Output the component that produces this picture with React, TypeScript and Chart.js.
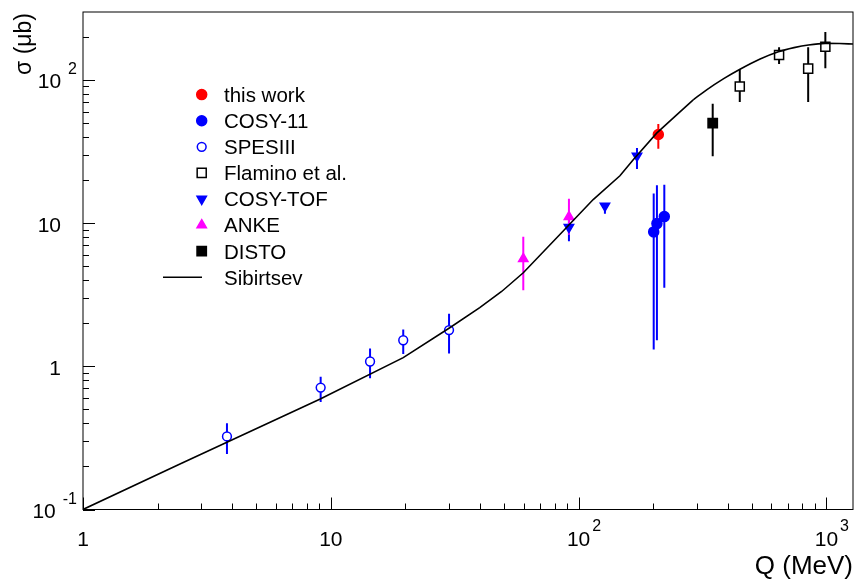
import { useEffect, useRef } from "react";
import { Chart, registerables } from "chart.js";

Chart.register(...registerables);

// Sibirtsev model curve, sigma (µb) versus excess energy Q (MeV)
const sibirtsevQ = [1, 2.45, 3.79, 9.02, 19.6, 30.2, 39.9, 48.9, 59.8, 84.0, 114.5, 146.8, 166.1, 206.5, 248.7, 290, 328.6, 385, 447.9, 540, 640, 740, 846, 988, 1130, 1280];
const sibirtsevSigma = [0.1, 0.207, 0.294, 0.589, 1.15, 1.86, 2.57, 3.33, 4.5, 8.32, 14.6, 21.4, 27.7, 42.5, 57.0, 72.6, 85.2, 102, 118.7, 140, 157.4, 168, 175.5, 180, 179.5, 178];
// polyline below this index, smooth spline above it
const curveSplit = 15;

// this work
const thisWorkQ = [209.7];
const thisWorkSigma = [41.6];
const thisWorkLow = [33.0];
const thisWorkHigh = [49.3];

// COSY-11
const cosy11Q = [200.9, 207, 221.7];
const cosy11Sigma = [8.68, 9.92, 11.1];
const cosy11Low = [1.31, 1.52, 3.53];
const cosy11High = [16.1, 18.4, 18.5];

// SPESIII
const spesQ = [3.81, 9.1, 14.4, 19.6, 30.0];
const spesSigma = [0.324, 0.71, 1.08, 1.52, 1.79];
const spesLow = [0.244, 0.563, 0.824, 1.22, 1.23];
const spesHigh = [0.401, 0.847, 1.33, 1.81, 2.33];

// Flamino et al.
const flaminoQ = [447, 644, 844, 990];
const flaminoSigma = [89.8, 149.3, 119.9, 170.7];
const flaminoLow = [70.0, 129, 70, 120.6];
const flaminoHigh = [118.8, 169, 169, 216];

// COSY-TOF
const cosyTofQ = [91.4, 127.7, 172];
const cosyTofSigma = [9.36, 13.2, 29.5];
const cosyTofLow = [7.46, 11.6, 23.9];
const cosyTofHigh = [10.6, 13.8, 33.4];

// ANKE
const ankeQ = [59.8, 91.4];
const ankeSigma = [5.63, 11.05];
const ankeLow = [3.4, 8.3];
const ankeHigh = [8.02, 14.8];

// DISTO
const distoQ = [347.6];
const distoSigma = [49.9];
const distoLow = [29.3];
const distoHigh = [68.1];

const legendLabels = ["this work", "COSY-11", "SPESIII", "Flamino et al.", "COSY-TOF", "ANKE", "DISTO", "Sibirtsev"];

// axis tick labels: base and exponent
const xTickValues = [1, 10, 100, 1000];
const xTickBase = ["1", "10", "10", "10"];
const xTickExp = ["", "", "2", "3"];
const yTickValues = [0.1, 1, 10, 100];
const yTickBase = ["10", "1", "10", "10"];
const yTickExp = ["-1", "", "", "2"];

const xTitle = "Q (MeV)";
const yTitle = "σ (μb)";

const X_MIN = 1;
const X_MAX = 1280;
const Y_MIN = 0.1;
const Y_MAX = 298;

const FONT = '"Liberation Sans", Arial, Helvetica, sans-serif';

type MarkerStyle = "circle" | "rect" | "triangle";

interface Series {
  label: string;
  q: number[];
  s: number[];
  lo: number[];
  hi: number[];
  color: string;
  style: MarkerStyle;
  rotation: number;
  radius: number;
  open: boolean;
}

const series: Series[] = [
  { label: legendLabels[0], q: thisWorkQ, s: thisWorkSigma, lo: thisWorkLow, hi: thisWorkHigh, color: "#ff0000", style: "circle", rotation: 0, radius: 5, open: false },
  { label: legendLabels[1], q: cosy11Q, s: cosy11Sigma, lo: cosy11Low, hi: cosy11High, color: "#0000ff", style: "circle", rotation: 0, radius: 5, open: false },
  { label: legendLabels[2], q: spesQ, s: spesSigma, lo: spesLow, hi: spesHigh, color: "#0000ff", style: "circle", rotation: 0, radius: 4.4, open: true },
  { label: legendLabels[3], q: flaminoQ, s: flaminoSigma, lo: flaminoLow, hi: flaminoHigh, color: "#000000", style: "rect", rotation: 0, radius: 6.4, open: true },
  { label: legendLabels[4], q: cosyTofQ, s: cosyTofSigma, lo: cosyTofLow, hi: cosyTofHigh, color: "#0000ff", style: "triangle", rotation: 180, radius: 5.4, open: false },
  { label: legendLabels[5], q: ankeQ, s: ankeSigma, lo: ankeLow, hi: ankeHigh, color: "#ff00ff", style: "triangle", rotation: 0, radius: 5.4, open: false },
  { label: legendLabels[6], q: distoQ, s: distoSigma, lo: distoLow, hi: distoHigh, color: "#000000", style: "rect", rotation: 0, radius: 6.6, open: false },
];

function drawMarker(ctx: CanvasRenderingContext2D, m: Series, x: number, y: number) {
  const r = m.radius;
  ctx.beginPath();
  if (m.style === "circle") {
    ctx.arc(x, y, r, 0, Math.PI * 2);
  } else if (m.style === "rect") {
    const h = r * Math.SQRT1_2;
    ctx.rect(x - h, y - h, 2 * h, 2 * h);
  } else {
    let rad = (m.rotation * Math.PI) / 180;
    ctx.moveTo(x + Math.sin(rad) * r, y - Math.cos(rad) * r);
    rad += (2 * Math.PI) / 3;
    ctx.lineTo(x + Math.sin(rad) * r, y - Math.cos(rad) * r);
    rad += (2 * Math.PI) / 3;
    ctx.lineTo(x + Math.sin(rad) * r, y - Math.cos(rad) * r);
    ctx.closePath();
  }
  if (!m.open) {
    ctx.fillStyle = m.color;
    ctx.fill();
  }
  ctx.strokeStyle = m.color;
  ctx.lineWidth = 1.5;
  ctx.stroke();
}

// vertical error bars, with a gap through open markers
const errorBarPlugin = {
  id: "errorBars",
  beforeDatasetsDraw(chart: any) {
    const { ctx, chartArea, scales } = chart;
    const xs = scales.x;
    const ys = scales.y;
    ctx.save();
    ctx.beginPath();
    ctx.rect(chartArea.left, chartArea.top, chartArea.right - chartArea.left, chartArea.bottom - chartArea.top);
    ctx.clip();
    ctx.lineWidth = 2;
    series.forEach((m) => {
      ctx.strokeStyle = m.color;
      m.q.forEach((q, i) => {
        const px = xs.getPixelForValue(q);
        const pc = ys.getPixelForValue(m.s[i]);
        const pHi = ys.getPixelForValue(m.hi[i]);
        const pLo = ys.getPixelForValue(m.lo[i]);
        ctx.beginPath();
        if (m.open) {
          const gap = m.style === "rect" ? m.radius * Math.SQRT1_2 : m.radius;
          if (pHi < pc - gap) {
            ctx.moveTo(px, pHi);
            ctx.lineTo(px, pc - gap);
          }
          if (pLo > pc + gap) {
            ctx.moveTo(px, pc + gap);
            ctx.lineTo(px, pLo);
          }
        } else {
          ctx.moveTo(px, pHi);
          ctx.lineTo(px, pLo);
        }
        ctx.stroke();
      });
    });
    ctx.restore();
  },
};

// frame, log ticks, labels, titles and legend
const framePlugin = {
  id: "frameAxes",
  afterDraw(chart: any) {
    const { ctx, chartArea, scales } = chart;
    const xs = scales.x;
    const ys = scales.y;
    const { left, right, top, bottom } = chartArea;
    ctx.save();

    ctx.strokeStyle = "#000";
    ctx.lineWidth = 1;
    ctx.strokeRect(left, top, right - left, bottom - top);

    // x ticks
    ctx.beginPath();
    for (let d = 0; d <= 3; d++) {
      for (let k = 1; k <= 9; k++) {
        const v = k * Math.pow(10, d);
        if (v < X_MIN || v > X_MAX) continue;
        const px = Math.round(xs.getPixelForValue(v)) + 0.5;
        const len = k === 1 ? 12 : 6;
        ctx.moveTo(px, bottom);
        ctx.lineTo(px, bottom - len);
      }
    }
    // y ticks
    for (let d = -1; d <= 2; d++) {
      for (let k = 1; k <= 9; k++) {
        const v = k * Math.pow(10, d);
        if (v < Y_MIN * 0.999 || v > Y_MAX) continue;
        const py = Math.round(ys.getPixelForValue(v)) + 0.5;
        const len = k === 1 ? 12 : 6;
        ctx.moveTo(left, py);
        ctx.lineTo(left + len, py);
      }
    }
    ctx.stroke();

    ctx.fillStyle = "#000";
    const baseSize = 21;
    const supSize = 16;

    // x tick labels
    xTickValues.forEach((v, i) => {
      const px = xs.getPixelForValue(v);
      const cy = bottom + 28.5;
      ctx.font = `${baseSize}px ${FONT}`;
      ctx.textAlign = "center";
      ctx.textBaseline = "alphabetic";
      ctx.fillText(xTickBase[i], px, cy + 0.358 * baseSize);
      if (xTickExp[i]) {
        const w = ctx.measureText(xTickBase[i]).width;
        ctx.font = `${supSize}px ${FONT}`;
        ctx.textAlign = "left";
        ctx.fillText(xTickExp[i], px + w / 2 + 2, cy - 7);
      }
    });

    // y tick labels
    yTickValues.forEach((v, i) => {
      const py = ys.getPixelForValue(v);
      const cy = py + 1;
      ctx.textBaseline = "alphabetic";
      if (yTickExp[i]) {
        ctx.font = `${supSize}px ${FONT}`;
        ctx.textAlign = "right";
        const supRight = left - 6;
        ctx.fillText(yTickExp[i], supRight, cy - 7);
        const sw = ctx.measureText(yTickExp[i]).width;
        ctx.font = `${baseSize}px ${FONT}`;
        ctx.fillText(yTickBase[i], supRight - sw - 7, cy + 0.358 * baseSize);
      } else {
        ctx.font = `${baseSize}px ${FONT}`;
        ctx.textAlign = "right";
        ctx.fillText(yTickBase[i], left - 22, cy + 0.358 * baseSize);
      }
    });

    // axis titles
    ctx.font = `26px ${FONT}`;
    ctx.textAlign = "right";
    ctx.textBaseline = "alphabetic";
    ctx.fillText(xTitle, right, 574);

    ctx.save();
    ctx.translate(31, top + 1);
    ctx.rotate(-Math.PI / 2);
    ctx.font = `23px ${FONT}`;
    ctx.textAlign = "right";
    ctx.fillText(yTitle, 0, 0);
    ctx.restore();

    // legend
    const legendX = 201.7;
    const textX = 224;
    const rowY0 = 94.6;
    const rowStep = 26.1;
    const legendSize = 20.5;
    legendLabels.forEach((label, i) => {
      const y = rowY0 + i * rowStep;
      if (i < series.length) {
        drawMarker(ctx, series[i], legendX, y);
      } else {
        ctx.beginPath();
        ctx.strokeStyle = "#000";
        ctx.lineWidth = 1.6;
        ctx.moveTo(163, y);
        ctx.lineTo(202, y);
        ctx.stroke();
      }
      ctx.fillStyle = "#000";
      ctx.font = `${legendSize}px ${FONT}`;
      ctx.textAlign = "left";
      ctx.textBaseline = "alphabetic";
      ctx.fillText(label, textX, y + 0.358 * legendSize);
    });

    ctx.restore();
  },
};

const hiddenAxis = {
  display: false,
  ticks: { display: false },
  grid: { display: false },
  border: { display: false },
};

export default function App() {
  const canvasRef = useRef<HTMLCanvasElement | null>(null);

  useEffect(() => {
    const canvas = canvasRef.current;
    if (!canvas) return;

    const datasets: any[] = series.map((m) => ({
      label: m.label,
      data: m.q.map((q, i) => ({ x: q, y: m.s[i] })),
      showLine: false,
      pointStyle: m.style,
      pointRotation: m.rotation,
      pointRadius: m.radius,
      pointHoverRadius: m.radius,
      pointBackgroundColor: m.open ? "rgba(0,0,0,0)" : m.color,
      pointBorderColor: m.color,
      pointBorderWidth: 1.5,
    }));

    const curvePoints = sibirtsevQ.map((q, i) => ({ x: q, y: sibirtsevSigma[i] }));
    const curveStyle = {
      label: legendLabels[7],
      showLine: true,
      borderColor: "#000",
      borderWidth: 1.6,
      pointRadius: 0,
      fill: false,
    };
    datasets.unshift(
      { ...curveStyle, data: curvePoints.slice(0, curveSplit + 1), tension: 0 },
      { ...curveStyle, data: curvePoints.slice(curveSplit), cubicInterpolationMode: "monotone" }
    );

    const chart = new Chart(canvas, {
      type: "scatter",
      data: { datasets },
      options: {
        animation: false,
        responsive: false,
        maintainAspectRatio: false,
        events: [],
        layout: { autoPadding: false, padding: { left: 83, right: 3, top: 12, bottom: 72.5 } },
        plugins: {
          legend: { display: false },
          tooltip: { enabled: false },
          title: { display: false },
        },
        scales: {
          x: { type: "logarithmic", min: X_MIN, max: X_MAX, ...hiddenAxis },
          y: { type: "logarithmic", min: Y_MIN, max: Y_MAX, ...hiddenAxis },
        },
      },
      plugins: [errorBarPlugin, framePlugin],
    });

    return () => chart.destroy();
  }, []);

  return (
    <div style={{ position: "absolute", left: 0, top: 0, width: 856, height: 582, background: "#fff" }}>
      <canvas ref={canvasRef} width={856} height={582} style={{ display: "block" }} />
    </div>
  );
}
